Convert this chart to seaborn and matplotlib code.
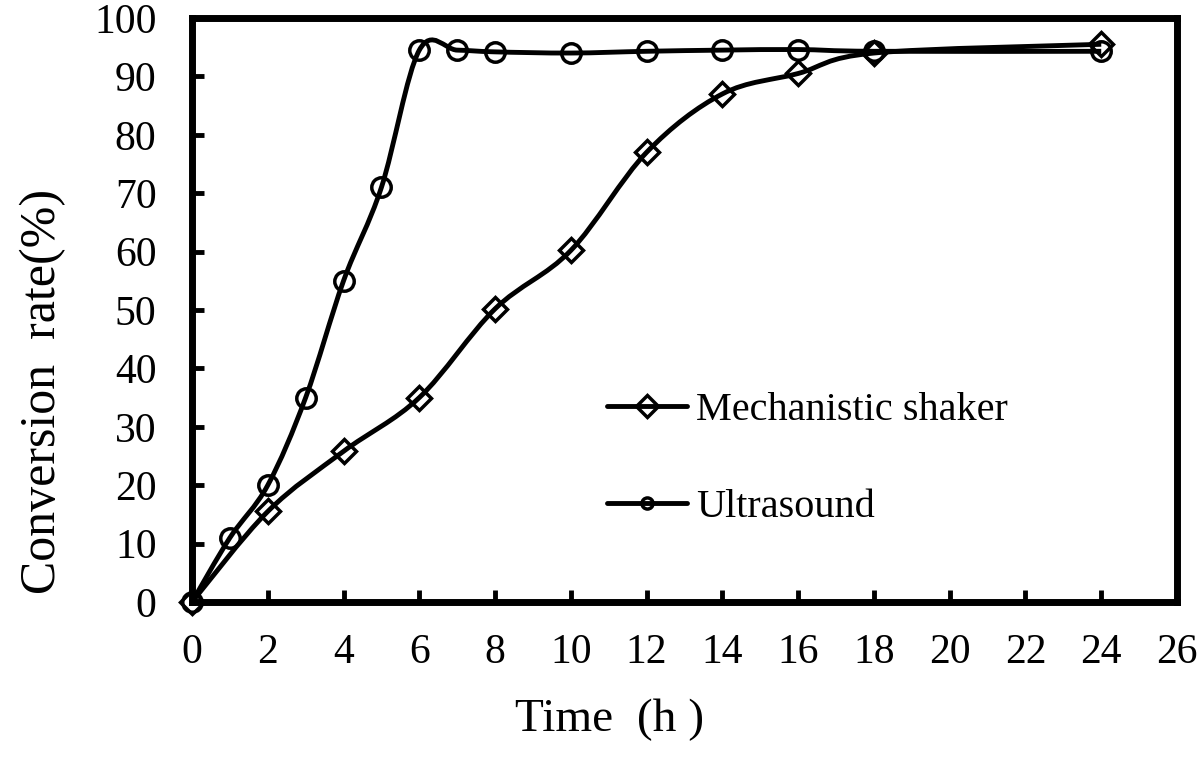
import numpy as np
import pandas as pd
import seaborn as sns
import matplotlib
matplotlib.use("Agg")
import matplotlib.pyplot as plt
from matplotlib.path import Path
from matplotlib.patches import PathPatch
from matplotlib.lines import Line2D

# ---- data ----
shaker_time = [0, 2, 4, 6, 8, 10, 12, 14, 16, 18, 24]
shaker_rate = [0, 15.5, 25.8, 35.0, 50.2, 60.2, 77.0, 87.0, 90.5, 94.0, 95.5]
ultra_time = [0, 1, 2, 3, 4, 5, 6, 7, 8, 10, 12, 14, 16, 18, 24]
ultra_rate = [0, 11.0, 20.0, 35.0, 55.0, 71.0, 94.5, 94.5, 94.2, 94.0, 94.3, 94.5, 94.6, 94.3, 94.3]
series_names = ["Mechanistic shaker", "Ultrasound"]
x_ticks = list(range(0, 27, 2))
y_ticks = list(range(0, 101, 10))

sns.set_style("ticks")
plt.rcParams["font.family"] = ["Liberation Serif", "DejaVu Serif"]
plt.rcParams["text.color"] = "black"
plt.rcParams["axes.labelcolor"] = "black"
plt.rcParams["xtick.color"] = "black"
plt.rcParams["ytick.color"] = "black"
plt.rcParams["xtick.labelcolor"] = "black"
plt.rcParams["ytick.labelcolor"] = "black"

fig = plt.figure(figsize=(12, 7.58), dpi=100)
ax = fig.add_axes([192 / 1200, 1 - 602 / 758, (1177 - 192) / 1200, (602 - 18) / 758])

LW = 3.5
MEW = 2.5
FS = 30


def smooth_path(xs, ys):
    """Excel-style smoothed line: cubic Bezier segments through the data points."""
    pts = np.column_stack([xs, ys]).astype(float)
    verts = [pts[0]]
    codes = [Path.MOVETO]
    n = len(pts)
    for i in range(n - 1):
        p0 = pts[i - 1] if i > 0 else pts[i]
        p1 = pts[i]
        p2 = pts[i + 1]
        p3 = pts[i + 2] if i + 2 < n else pts[i + 1]
        c1 = p1 + (p2 - p0) / 6.0
        c2 = p2 - (p3 - p1) / 6.0
        verts += [c1, c2, p2]
        codes += [Path.CURVE4] * 3
    return Path(verts, codes)


df_s = pd.DataFrame({"time": shaker_time, "rate": shaker_rate, "series": series_names[0]})
df_u = pd.DataFrame({"time": ultra_time, "rate": ultra_rate, "series": series_names[1]})

for df in (df_s, df_u):
    ax.add_patch(PathPatch(smooth_path(df["time"], df["rate"]), facecolor="none",
                           edgecolor="black", lw=LW, zorder=2, clip_on=False))

sns.lineplot(data=df_s, x="time", y="rate", ax=ax, linestyle="none", marker="D",
             markersize=12.5, markerfacecolor="none", markeredgecolor="black",
             markeredgewidth=MEW, color="black", zorder=3, legend=False, clip_on=False)
sns.lineplot(data=df_u, x="time", y="rate", ax=ax, linestyle="none", marker="o",
             markersize=14, markerfacecolor="none", markeredgecolor="black",
             markeredgewidth=MEW, color="black", zorder=3, legend=False, clip_on=False)

ax.set_xlim(0, 26)
ax.set_ylim(0, 100)
ax.set_xticks(x_ticks)
ax.set_yticks(y_ticks)
ax.tick_params(direction="in", length=8.5, width=3.5, labelsize=FS,
               color="black", labelcolor="black")
ax.tick_params(axis="x", pad=23)
ax.tick_params(axis="y", pad=25.5)
for sp in ax.spines.values():
    sp.set_linewidth(5)
    sp.set_color("black")
    sp.set_visible(True)

ax.set_xlabel("Time  (h )", fontsize=34, color="black")
ax.xaxis.set_label_coords(0.424, -0.166)
ax.set_ylabel("Conversion  rate(%)", fontsize=36, color="black")
ax.yaxis.set_label_coords(-0.128, 0.361)

handles = [
    Line2D([], [], color="black", lw=LW, marker="D", markersize=11.5,
           markerfacecolor="none", markeredgewidth=MEW),
    Line2D([], [], color="black", lw=LW, marker="o", markersize=8,
           markerfacecolor="none", markeredgewidth=MEW),
]
leg = ax.legend(handles, series_names, loc="center left", bbox_to_anchor=(0.421, 0.245),
                frameon=False, fontsize=29, handlelength=2.0, handletextpad=0.22,
                labelspacing=1.5, borderpad=0, borderaxespad=0)
for t in leg.get_texts():
    t.set_color("black")

fig.savefig("out.png", dpi=100, facecolor="white")
